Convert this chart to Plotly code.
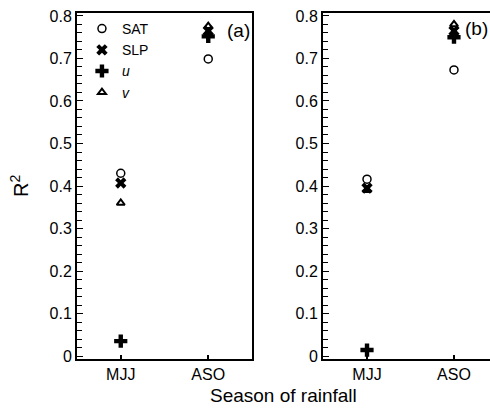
import plotly.graph_objects as go

seasons = ["MJJ", "ASO"]
# panel (a)
a_sat = [0.43, 0.699]
a_slp = [0.407, 0.765]
a_u = [0.035, 0.752]
a_v = [0.36, 0.776]
# panel (b)
b_sat = [0.416, 0.673]
b_slp = [0.395, 0.765]
b_u = [0.014, 0.75]
b_v = [0.39, 0.78]

names = ["SAT", "SLP", "<i>u</i>", "<i>v</i>"]
FONT = "Liberation Sans, Arial, Helvetica, sans-serif"

styles = [
    dict(symbol="circle-open", size=8, color="black", line=dict(width=1.5, color="black")),
    dict(symbol="x", size=10, color="black", line=dict(width=0)),
    dict(symbol="cross", size=11, color="black", line=dict(width=0)),
    dict(symbol="triangle-up-open", size=7, color="black", line=dict(width=2, color="black")),
]

fig = go.Figure()
for i, (ys, nm) in enumerate(zip([a_sat, a_slp, a_u, a_v], names)):
    fig.add_trace(go.Scatter(x=seasons, y=ys, mode="markers", name=nm,
                             marker=styles[i], xaxis="x", yaxis="y", showlegend=True))
for i, (ys, nm) in enumerate(zip([b_sat, b_slp, b_u, b_v], names)):
    fig.add_trace(go.Scatter(x=seasons, y=ys, mode="markers", name=nm,
                             marker=styles[i], xaxis="x2", yaxis="y2", showlegend=False))

W, H = 490, 415
L, R, T, B = 77, 0, 13, 56
pw = W - L - R
yrange = [-0.007, 0.807]

yax = dict(range=yrange, showline=True, linewidth=2, linecolor="black",
           ticks="inside", ticklen=6, tickwidth=1.2, tickcolor="black",
           dtick=0.1, tick0=0, showgrid=False, zeroline=False,
           tickfont=dict(size=16, color="black", family=FONT),
           minor=dict(ticks="inside", ticklen=4.5, tickwidth=1, tickcolor="black", dtick=0.02, showgrid=False),
           tickformat=".1~f")
xax = dict(type="category", showline=True, linewidth=2, linecolor="black",
           ticks="inside", ticklen=4, tickwidth=2, tickcolor="black",
           showgrid=False, zeroline=False,
           tickfont=dict(size=16, color="black", family=FONT))

fig.update_layout(
    width=W, height=H,
    margin=dict(l=L, r=R, t=T, b=B),
    paper_bgcolor="white", plot_bgcolor="white",
    font=dict(family=FONT, color="black"),
    xaxis=dict(xax, domain=[0, 175 / pw], range=[-0.5, 1.5], mirror=True, anchor="y"),
    yaxis=dict(yax, domain=[0, 1], mirror=True, anchor="x"),
    xaxis2=dict(xax, domain=[(323 - L) / pw, 1], range=[-0.506, 1.414], mirror=True, anchor="y2"),
    yaxis2=dict(yax, domain=[0, 1], mirror=False, anchor="x2"),
    legend=dict(x=0.012, y=1.0, xanchor="left", yanchor="top", bgcolor="rgba(0,0,0,0)",
                font=dict(size=14, family=FONT, color="black"), tracegroupgap=0,
                itemwidth=30),
    showlegend=True,
    annotations=[
        dict(text="R<sup>2</sup>", xref="paper", yref="paper", x=(19 - L) / pw, y=0.5,
             textangle=-90, showarrow=False, font=dict(size=20, family=FONT, color="black"),
             xanchor="center", yanchor="middle"),
        dict(text="Season of rainfall", xref="paper", yref="paper", x=(283 - L) / pw, y=(359 - 395) / (H - T - B),
             showarrow=False, font=dict(size=19, family=FONT, color="black"),
             xanchor="center", yanchor="middle"),
        dict(text="(a)", xref="x", yref="y", x=1.5, y=0.765, xanchor="right", yanchor="middle",
             showarrow=False, font=dict(size=19, family=FONT, color="black"), xshift=0),
        dict(text="(b)", xref="x2", yref="y2", x=1.1, y=0.77, xanchor="left", yanchor="middle",
             showarrow=False, font=dict(size=19, family=FONT, color="black")),
    ],
)

fig.write_html("out.html")
